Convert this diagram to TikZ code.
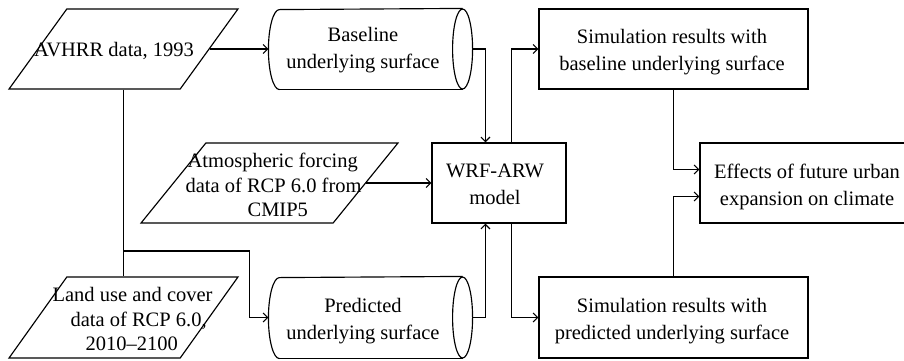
\documentclass[tikz,border=0pt]{standalone}
\usepackage{fontspec}
\setmainfont{Liberation Serif}
\usetikzlibrary{shapes.geometric,arrows.meta}
\begin{document}
\begin{tikzpicture}[x=1pt,y=-1pt, line width=1.15pt,
 box/.style={draw, rectangle, inner sep=0pt},
 para/.style={draw, trapezium, trapezium left angle=63, trapezium right angle=117, trapezium stretches=true, inner sep=3pt},
 cyl/.style={rectangle, inner sep=0pt, minimum width=203pt},
 txt/.style={inner sep=0pt, align=center, font=\fontsize{20.5}{27}\selectfont},
 lin/.style={inner sep=0pt, anchor=base west, font=\fontsize{20.5}{24.5}\selectfont},
 arr/.style={-{Straight Barb[length=4.5pt,width=9pt]}}]
\useasboundingbox (0,0) rectangle (904,360);
\clip (0,0) rectangle (904,360);
% shapes
\node[para, minimum width=229pt, minimum height=80pt] (avhrr) at (123.5,49) {};
\node[para, minimum width=229pt, minimum height=81pt] (land) at (123.5,317.5) {};
\node[para, minimum width=257pt, minimum height=80pt] (atm) at (269.5,183) {};
\node[cyl, minimum height=80pt] (base) at (370.5,49) {};
\node[cyl, minimum height=81pt] (pred) at (370.5,317.5) {};
\node[box, minimum width=134pt, minimum height=80pt] (wrf) at (499,183) {};
\node[box, minimum width=269pt, minimum height=80pt] (simb) at (673.5,49) {};
\node[box, minimum width=269pt, minimum height=81pt] (simp) at (673.5,317.5) {};
\node[box, minimum width=210pt, minimum height=80pt] (eff) at (805,183) {};
% cylinder outlines
\draw ([xshift=11pt]base.south west) arc[start angle=270, end angle=90, x radius=11pt, y radius=40pt] -- ([xshift=-10pt]base.north east);
\draw ([xshift=11pt]base.south west) -- ([xshift=-10pt]base.south east);
\draw ([xshift=-10pt]base.east) ellipse[x radius=10pt, y radius=40pt];
\draw ([xshift=11pt]pred.south west) arc[start angle=270, end angle=90, x radius=11pt, y radius=40.5pt] -- ([xshift=-10pt]pred.north east);
\draw ([xshift=11pt]pred.south west) -- ([xshift=-10pt]pred.south east);
\draw ([xshift=-10pt]pred.east) ellipse[x radius=10pt, y radius=40.5pt];
% texts
\node[txt, anchor=base] (avhrrT) at (114,56) {AVHRR data, 1993};
\node[txt, anchor=north] (baseT) at (363,27) {Baseline\\underlying surface};
\node[txt, anchor=north] (predT) at (363,298) {Predicted\\underlying surface};
\node[lin] (atmT1) at (187,167) {Atmospheric forcing};
\node[lin] (atmT2) at (185,192) {data of RCP 6.0 from};
\node[lin] (atmT3) at (247,216) {CMIP5};
\node[lin] (landT1) at (52,301) {Land use and cover};
\node[lin] (landT2) at (70,326) {data of RCP 6.0,};
\node[lin] (landT3) at (85,350) {2010--2100};
\node[txt, anchor=north] (wrfT) at (495,163) {WRF-ARW\\model};
\node[txt, anchor=north] (simbT) at (672,29) {Simulation results with\\baseline underlying surface};
\node[txt, anchor=north] (simpT) at (672,298) {Simulation results with\\predicted underlying surface};
\node[txt, anchor=north] (effT) at (807,163) {Effects of future urban\\expansion on climate};
% connectors
\draw[arr] (avhrr.east) -- (base.west);
\draw (avhrr.south) -- (land.north);
\coordinate (br) at (123.5,251);
\draw[arr] (br) -- ++(126,0) |- (pred.west);
\draw[arr] (atm.east) -- (wrf.west);
\draw[arr] (base.east) -| ([xshift=54pt]wrf.north west);
\draw[arr] (pred.east) -| ([xshift=54pt]wrf.south west);
\draw[arr] ([xshift=80pt]wrf.north west) |- (simb.west);
\draw[arr] ([xshift=80pt]wrf.south west) |- (simp.west);
\draw[arr] (simb.south) |- ([yshift=13.5pt]eff.west);
\draw[arr] (simp.north) |- ([yshift=-13.5pt]eff.west);
\end{tikzpicture}
\end{document}
